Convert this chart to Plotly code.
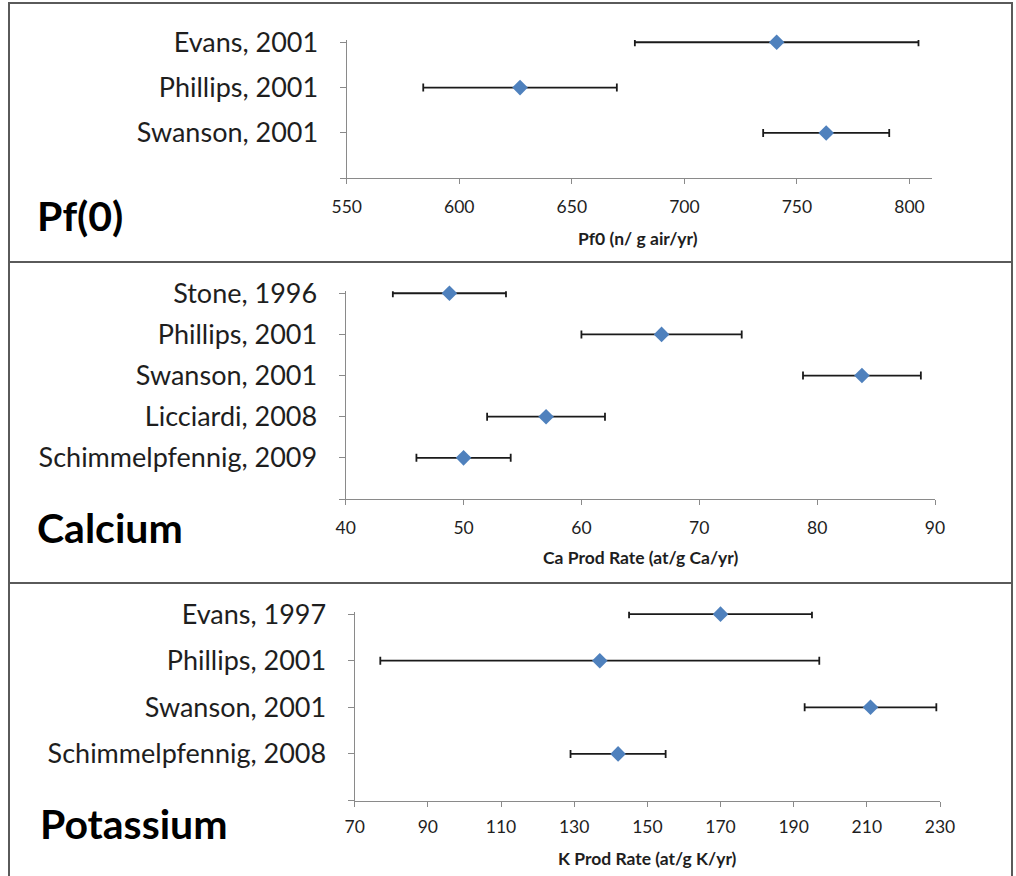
import plotly.graph_objects as go

# ---- data -------------------------------------------------------------
pf_labels = ["Evans, 2001", "Phillips, 2001", "Swanson, 2001"]
pf_values = [741, 627, 763]
pf_errors = [63, 43, 28]
pf_ticks = [550, 600, 650, 700, 750, 800]

ca_labels = ["Stone, 1996", "Phillips, 2001", "Swanson, 2001",
             "Licciardi, 2008", "Schimmelpfennig, 2009"]
ca_values = [48.8, 66.8, 83.8, 57.0, 50.0]
ca_errors = [4.8, 6.8, 5.0, 5.0, 4.0]
ca_ticks = [40, 50, 60, 70, 80, 90]

k_labels = ["Evans, 1997", "Phillips, 2001", "Swanson, 2001",
            "Schimmelpfennig, 2008"]
k_values = [170, 137, 211, 142]
k_errors = [25, 60, 18, 13]
k_ticks = [70, 90, 110, 130, 150, 170, 190, 210, 230]

panel_titles = ["Pf(0)", "Calcium", "Potassium"]
axis_titles = ["Pf0 (n/ g air/yr)", "Ca Prod Rate (at/g Ca/yr)",
               "K Prod Rate (at/g K/yr)"]

# ---- layout helpers ---------------------------------------------------
W, H = 1016, 876
FONT = "Lato, 'Open Sans', sans-serif"
TEXT = "#1e1e1e"
AXIS = "#8a8a8a"
MARK = "#4f81bd"


def px_x(v):
    return v / W


def px_y(v):
    return 1 - v / H


panels = [
    # plot box is (left, right, top, bottom) in pixels
    dict(labels=pf_labels, values=pf_values, errors=pf_errors, ticks=pf_ticks,
         xr=[550, 810], box=(346.7, 932, 40.0, 178.3), ytop=3.05, xpad=8),
    dict(labels=ca_labels, values=ca_values, errors=ca_errors, ticks=ca_ticks,
         xr=[40, 90], box=(345.7, 935, 291.2, 499.0), ytop=5.05, xpad=8),
    dict(labels=k_labels, values=k_values, errors=k_errors, ticks=k_ticks,
         xr=[70, 230], box=(354.7, 940, 611.8, 800.5), ytop=4.05, xpad=5),
]

fig = go.Figure()
layout = {}

for i, p in enumerate(panels, start=1):
    n = len(p["labels"])
    rows = list(range(n, 0, -1))
    xa = "x" if i == 1 else f"x{i}"
    ya = "y" if i == 1 else f"y{i}"
    fig.add_trace(go.Scatter(
        x=p["values"], y=rows, mode="markers",
        xaxis=xa, yaxis=ya, cliponaxis=False,
        marker=dict(symbol="diamond", size=12, color=MARK),
        error_x=dict(type="data", array=p["errors"], color="#1a1a1a",
                     thickness=1.8, width=4),
        showlegend=False,
    ))
    left, right, top, bottom = p["box"]
    xkey = "xaxis" if i == 1 else f"xaxis{i}"
    ykey = "yaxis" if i == 1 else f"yaxis{i}"
    layout[xkey] = dict(
        domain=[px_x(left), px_x(right)], anchor=ya, range=p["xr"],
        tickvals=p["ticks"], ticks="outside", ticklen=5, tickcolor=AXIS,
        showline=True, linecolor=AXIS, linewidth=1.2, automargin=False,
        showgrid=False, zeroline=False, ticklabelstandoff=p["xpad"],
        tickfont=dict(family=FONT, size=17.5, color=TEXT),
    )
    layout[ykey] = dict(
        domain=[px_y(bottom), px_y(top)], anchor=xa, range=[0, p["ytop"]],
        tickvals=[0] + rows, ticktext=[""] + p["labels"],
        ticks="outside", ticklen=6, tickcolor=AXIS, automargin=False,
        showline=True, linecolor=AXIS, linewidth=1.2,
        showgrid=False, zeroline=False, ticklabelstandoff=16,
        tickfont=dict(family=FONT, size=27, color=TEXT),
    )

fig.update_layout(**layout)

# panel titles and axis titles
title_pos = [(35, 215), (35, 527), (38, 823)]
xtitle_pos = [(638, 239), (640, 557), (647, 858)]
annotations = []
for t, (x, y) in zip(panel_titles, title_pos):
    annotations.append(dict(
        text=f"<b>{t}</b>", x=px_x(x), y=px_y(y), xref="paper", yref="paper",
        xanchor="left", yanchor="middle", showarrow=False,
        font=dict(family=FONT, size=41, color="#000000")))
for t, (x, y) in zip(axis_titles, xtitle_pos):
    annotations.append(dict(
        text=f"<b>{t}</b>", x=px_x(x), y=px_y(y), xref="paper", yref="paper",
        xanchor="center", yanchor="middle", showarrow=False,
        font=dict(family=FONT, size=17.5, color=TEXT)))

# panel frames
BORDER = "#5a5a5a"
shapes = []
for (y0, y1) in [(3, 262), (262, 583)]:
    shapes.append(dict(type="rect", xref="paper", yref="paper",
                       x0=px_x(9), x1=px_x(1012), y0=px_y(y1), y1=px_y(y0),
                       line=dict(color=BORDER, width=2)))
shapes.append(dict(type="line", xref="paper", yref="paper",
                   x0=px_x(9), x1=px_x(9), y0=px_y(583), y1=0,
                   line=dict(color=BORDER, width=2)))
shapes.append(dict(type="line", xref="paper", yref="paper",
                   x0=px_x(1012), x1=px_x(1012), y0=px_y(583), y1=0,
                   line=dict(color=BORDER, width=2)))

fig.update_layout(
    width=W, height=H, margin=dict(l=0, r=0, t=0, b=0, autoexpand=False),
    paper_bgcolor="white", plot_bgcolor="white",
    annotations=annotations, shapes=shapes, showlegend=False,
)

fig.write_html("out.html")
